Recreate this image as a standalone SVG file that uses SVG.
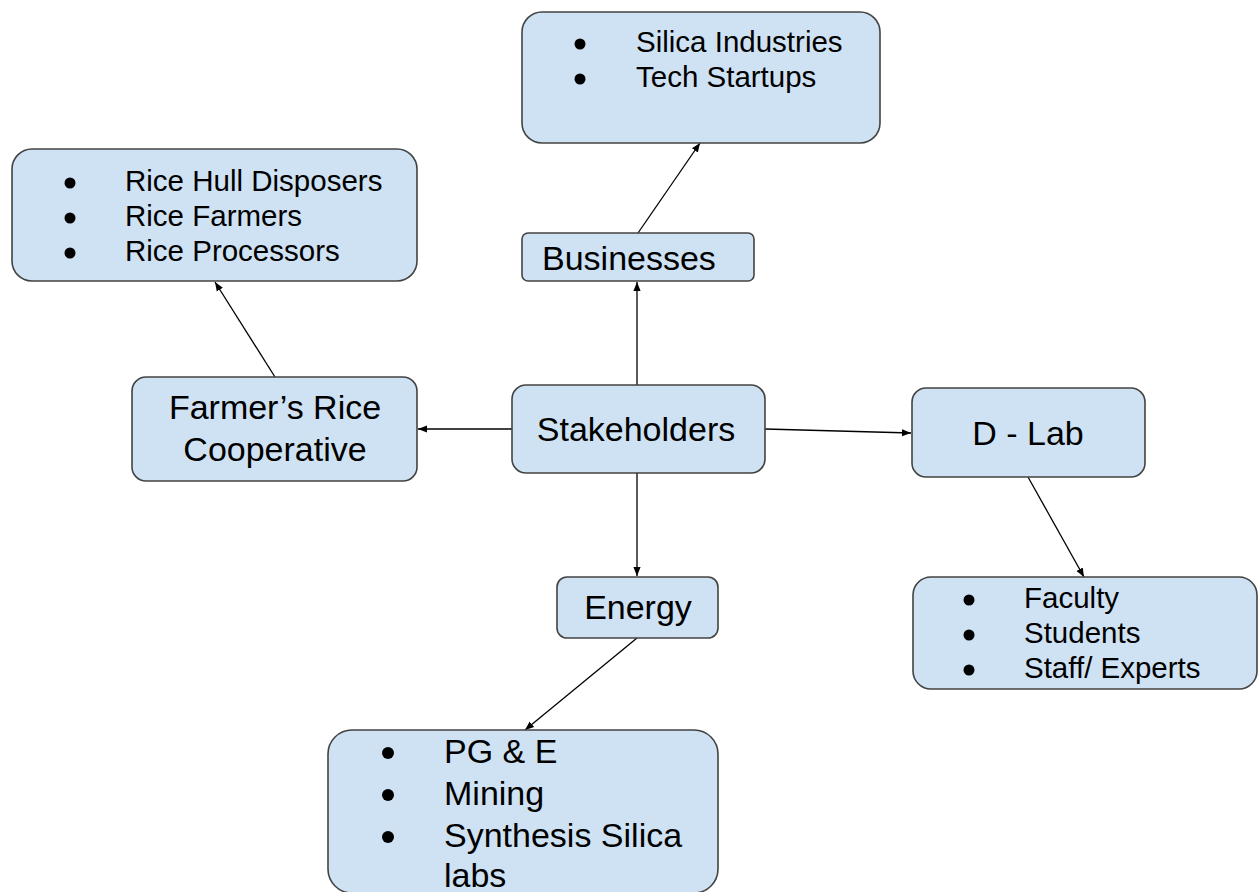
<svg xmlns="http://www.w3.org/2000/svg" width="1258" height="892" viewBox="0 0 1258 892">
<style>
.box{fill:#cfe2f3;stroke:#434343;stroke-width:1.6}
.t{font-family:"Liberation Sans",Arial,sans-serif;fill:#000}
.big{font-size:34px}
.sm{font-size:29.5px}
.mid{text-anchor:middle}
.bul{fill:#000}
.c{stroke:#000;stroke-width:1.3;fill:none;marker-end:url(#ah)}
</style>
<defs>
<marker id="ah" viewBox="0 0 10 10" refX="10" refY="5" markerWidth="9" markerHeight="9" markerUnits="userSpaceOnUse" orient="auto">
<path d="M0,1 L10,5 L0,9 Z" fill="#000"/>
</marker>
</defs>
<rect width="1258" height="892" fill="#fff"/>
<g id="connectors">
<line class="c" x1="638" y1="233" x2="700" y2="143"/>
<line class="c" x1="637" y1="385" x2="637" y2="282"/>
<line class="c" x1="275" y1="377" x2="215" y2="282"/>
<line class="c" x1="512" y1="429" x2="418" y2="429"/>
<line class="c" x1="765" y1="429" x2="911" y2="433"/>
<line class="c" x1="637" y1="473" x2="637" y2="576"/>
<line class="c" x1="1028" y1="477" x2="1084" y2="577"/>
<line class="c" x1="637" y1="638" x2="525" y2="730"/>
</g>
<g id="silica">
<rect class="box" x="522" y="12" width="358" height="131" rx="20"/>
<circle class="bul" cx="580" cy="44" r="5.5"/>
<circle class="bul" cx="580" cy="79" r="5.5"/>
<text class="t sm" x="636" y="52">Silica Industries</text>
<text class="t sm" x="636" y="87">Tech Startups</text>
</g>
<g id="businesses">
<rect class="box" x="522" y="233" width="232" height="48" rx="6"/>
<text class="t big" x="542" y="270">Businesses</text>
</g>
<g id="rice-list">
<rect class="box" x="12" y="149" width="405" height="132" rx="20"/>
<circle class="bul" cx="70" cy="183" r="5.5"/>
<circle class="bul" cx="70" cy="218" r="5.5"/>
<circle class="bul" cx="70" cy="253" r="5.5"/>
<text class="t sm" x="125" y="191">Rice Hull Disposers</text>
<text class="t sm" x="125" y="226">Rice Farmers</text>
<text class="t sm" x="125" y="261">Rice Processors</text>
</g>
<g id="coop">
<rect class="box" x="132" y="377" width="285" height="104" rx="14"/>
<text class="t big mid" x="275" y="419">Farmer’s Rice</text>
<text class="t big mid" x="275" y="461">Cooperative</text>
</g>
<g id="stakeholders">
<rect class="box" x="512" y="385" width="253" height="88" rx="14"/>
<text class="t big mid" x="636" y="441">Stakeholders</text>
</g>
<g id="dlab">
<rect class="box" x="912" y="388" width="233" height="89" rx="14"/>
<text class="t big mid" x="1028" y="445">D - Lab</text>
</g>
<g id="dlab-list">
<rect class="box" x="913" y="577" width="344" height="112" rx="18"/>
<circle class="bul" cx="969" cy="600" r="5.5"/>
<circle class="bul" cx="969" cy="635" r="5.5"/>
<circle class="bul" cx="969" cy="670" r="5.5"/>
<text class="t sm" x="1024" y="608">Faculty</text>
<text class="t sm" x="1024" y="643">Students</text>
<text class="t sm" x="1024" y="678">Staff/ Experts</text>
</g>
<g id="energy">
<rect class="box" x="557" y="577" width="161" height="61" rx="10"/>
<text class="t big mid" x="638" y="619">Energy</text>
</g>
<g id="energy-list">
<rect class="box" x="328" y="730" width="390" height="163" rx="24"/>
<circle class="bul" cx="388" cy="753" r="6"/>
<circle class="bul" cx="388" cy="795" r="6"/>
<circle class="bul" cx="388" cy="837" r="6"/>
<text class="t big" x="444" y="763">PG &amp; E</text>
<text class="t big" x="444" y="805">Mining</text>
<text class="t big" x="444" y="847">Synthesis Silica</text>
<text class="t big" x="444" y="887">labs</text>
</g>
</svg>
